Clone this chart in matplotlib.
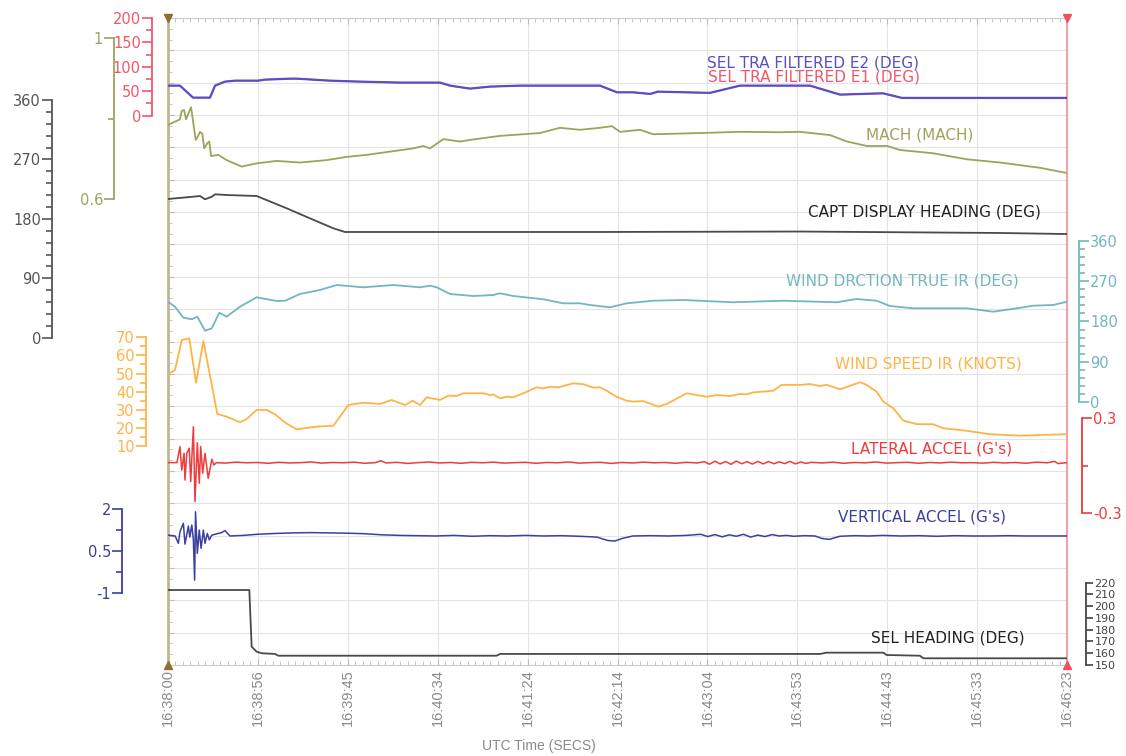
import numpy as np
import matplotlib
matplotlib.use("Agg")
import matplotlib.pyplot as plt
from matplotlib.ticker import MultipleLocator

# time axis (seconds after 16:38:00)
T_END = 503.0
time_labels = ['16:38:00', '16:38:56', '16:39:45', '16:40:34', '16:41:24', '16:42:14',
               '16:43:04', '16:43:53', '16:44:43', '16:45:33', '16:46:23']

# SEL TRA FILTERED E1 / E2 (DEG)
tra_t = [0, 6.7, 14.0, 23.5, 26.3, 31.9, 37.5, 50.4, 54.3, 68.3, 72.0, 90.6, 107.4, 129.8,
         152.2, 157.8, 169.0, 180.2, 196.9, 219.3, 241.7, 251.2, 260.2, 269.7, 274.2, 303.2,
         320.0, 359.2, 376.0, 400.0, 410.7, 503]
tra_e2 = [61.4, 61.4, 36.8, 36.8, 61.4, 69.6, 71.6, 71.6, 73.7, 75.7, 75.7, 71.6, 69.6, 67.6,
          67.6, 61.4, 55.3, 59.4, 61.4, 61.4, 61.4, 47.7, 47.7, 44.4, 49.1, 46.5,
          61.4, 61.4, 43.0, 45.7, 36.2, 36.2]
tra_e1 = [61.4, 61.4, 36.8, 36.8, 61.4, 69.6, 71.6, 71.6, 73.7, 75.7, 75.7, 71.6, 69.6, 67.6,
          67.6, 61.4, 55.3, 59.4, 61.4, 61.4, 61.4, 47.7, 47.7, 44.4, 49.1, 46.5,
          61.4, 61.4, 43.0, 45.7, 36.2, 36.2]

# MACH
mach_t = [0, 6.7, 7.7, 9.0, 10.1, 12.9, 14.2, 15.5, 16.6, 17.9, 19.2, 20.3, 22.0, 23.1, 24.1,
          28.1, 32.8, 41.2, 49.6, 60.8, 73.9, 88.8, 100.0, 111.2, 124.2, 137.2, 142.8, 146.6,
          154.0, 163.4, 169.0, 185.8, 208.1, 219.3, 230.5, 241.7, 248.4, 252.9, 264.1, 271.4,
          297.7, 320.0, 342.4, 353.6, 370.4, 379.9, 391.1, 402.3, 409.6, 428.0, 447.0, 465.5,
          487.9, 503]
mach_v = [0.784, 0.798, 0.819, 0.821, 0.798, 0.828, 0.788, 0.747, 0.755, 0.767, 0.762, 0.726,
          0.739, 0.743, 0.707, 0.710, 0.697, 0.681, 0.689, 0.695, 0.691, 0.697, 0.705, 0.710,
          0.718, 0.726, 0.732, 0.726, 0.749, 0.743, 0.747, 0.757, 0.764, 0.777, 0.772, 0.777,
          0.781, 0.767, 0.772, 0.761, 0.764, 0.767, 0.766, 0.767, 0.759, 0.743, 0.732, 0.732,
          0.722, 0.714, 0.699, 0.691, 0.678, 0.665]

# CAPT DISPLAY HEADING (DEG)
capt_t = [0, 14.0, 17.9, 20.7, 24.5, 26.3, 32.8, 49.6, 66.4, 79.4, 92.5, 99.0, 129.8, 241.7,
          353.6, 465.5, 503]
capt_v = [210.1, 213.5, 214.6, 209.6, 213.5, 217.2, 216.1, 214.6, 196.0, 180.8, 165.7, 160.1,
          160.1, 160.1, 160.8, 158.6, 157.0]

# WIND DRCTION TRUE IR (DEG)
wdir_t = [0, 3.9, 8.6, 13.3, 16.4, 20.7, 24.5, 28.7, 32.8, 40.3, 49.6, 60.8, 65.5, 73.9, 85.0,
          94.4, 109.3, 126.1, 141.0, 146.6, 150.3, 157.8, 170.8, 182.0, 185.8, 193.2, 210.0,
          221.2, 230.5, 236.1, 247.3, 256.6, 271.5, 288.3, 316.3, 344.2, 374.1, 385.3, 396.5,
          404.0, 417.0, 446.9, 461.8, 474.9, 484.1, 495.3, 503]
wdir_v = [224.1, 213.0, 188.5, 184.9, 190.7, 159.5, 164.8, 199.6, 190.7, 213.0, 233.9, 225.7,
          226.3, 241.3, 250.2, 261.3, 256.2, 261.3, 256.2, 259.8, 256.2, 241.3, 236.8, 239.0,
          242.8, 236.8, 229.5, 220.5, 220.5, 216.8, 211.6, 220.5, 226.3, 227.9, 222.8, 226.3,
          222.8, 230.1, 226.3, 214.5, 209.4, 209.4, 201.8, 209.4, 215.2, 216.8, 224.1]

# WIND SPEED IR (KNOTS)
wspd_t = [0, 3.9, 7.7, 11.9, 15.7, 19.8, 27.6, 32.8, 40.3, 44.0, 49.6, 55.2, 59.9, 65.5, 72.0,
          83.2, 92.5, 100.9, 109.3, 118.6, 125.2, 132.6, 136.9, 141.0, 144.7, 152.2, 156.8,
          161.5, 165.2, 176.4, 180.2, 182.0, 185.8, 189.5, 193.2, 198.8, 206.3, 210.0, 213.7,
          218.4, 226.8, 232.4, 238.0, 241.7, 245.4, 251.0, 256.6, 260.3, 265.9, 274.3, 279.0,
          290.2, 301.4, 307.0, 314.4, 320.0, 323.8, 327.5, 338.7, 343.3, 353.6, 359.2, 364.8,
          368.5, 376.0, 387.2, 390.9, 396.5, 400.2, 405.8, 411.4, 418.9, 428.2, 433.8, 446.9,
          459.9, 476.7, 487.9, 503]
wspd_v = [49.7, 51.9, 68.5, 69.4, 44.9, 68.0, 27.7, 26.2, 23.1, 24.9, 29.9, 29.9, 27.5, 22.9,
          19.2, 20.7, 21.2, 32.6, 33.9, 33.2, 35.4, 32.6, 35.0, 32.6, 36.9, 35.4, 37.8, 37.6,
          39.1, 39.1, 38.1, 38.5, 36.3, 37.2, 36.9, 39.1, 42.4, 41.8, 42.7, 42.4, 44.6, 44.1,
          42.2, 42.4, 40.5, 37.2, 35.0, 34.5, 34.8, 31.7, 33.2, 39.1, 37.2, 38.1, 37.6, 38.7,
          38.5, 39.6, 40.5, 43.7, 43.7, 44.2, 43.1, 43.8, 41.3, 45.2, 43.7, 40.0, 34.5, 30.8,
          24.0, 22.1, 22.0, 19.8, 18.4, 16.5, 15.7, 16.1, 16.5]

# LATERAL ACCEL (G's)
lat_t = [0, 5.0, 6.7, 7.7, 9.0, 9.5, 10.5, 11.9, 12.7, 14.2, 15.1, 16.4, 17.5, 18.3, 19.4,
         20.7, 22.5, 24.5, 25.7, 27, 32, 38, 44, 50, 56, 62, 68, 74, 80, 86, 92, 98, 104, 110,
         116, 119, 122, 128, 134, 140, 146, 152, 158, 164, 170, 176, 182, 188, 194, 200, 206,
         212, 218, 224, 230, 236, 242, 248, 254, 260, 266, 272, 278, 284, 290, 296, 300, 303,
         306, 309, 312, 315, 318, 321, 324, 327, 330, 333, 336, 339, 342, 345, 348, 351, 354,
         357, 360, 366, 372, 378, 384, 390, 396, 402, 408, 414, 420, 426, 432, 438, 444, 450,
         456, 462, 468, 474, 480, 486, 492, 496, 498, 503]
lat_v = [0.020, 0.020, 0.121, -0.027, 0.079, -0.090, 0.079, 0.111, -0.100, 0.247, -0.227,
         0.146, -0.110, 0.121, -0.047, 0.079, -0.079, 0.041, 0.005, 0.020, 0.017, 0.023, 0.019,
         0.021, 0.016, 0.022, 0.018, 0.020, 0.024, 0.017, 0.021, 0.019, 0.023, 0.016, 0.020,
         0.032, 0.018, 0.022, 0.015, 0.020, 0.024, 0.018, 0.021, 0.016, 0.022, 0.019, 0.023,
         0.017, 0.020, 0.022, 0.016, 0.021, 0.019, 0.024, 0.017, 0.020, 0.022, 0.015, 0.021,
         0.018, 0.023, 0.019, 0.021, 0.016, 0.022, 0.018, 0.026, 0.010, 0.029, 0.012, 0.027,
         0.009, 0.030, 0.013, 0.026, 0.011, 0.028, 0.012, 0.027, 0.013, 0.025, 0.014, 0.028,
         0.012, 0.024, 0.015, 0.022, 0.018, 0.023, 0.016, 0.021, 0.019, 0.024, 0.017, 0.020,
         0.022, 0.016, 0.021, 0.018, 0.023, 0.019, 0.020, 0.017, 0.022, 0.018, 0.021, 0.016,
         0.023, 0.019, 0.028, 0.014, 0.020]

# VERTICAL ACCEL (G's)
vert_t = [0, 4.0, 5.8, 6.7, 8.6, 9.5, 11.4, 12.2, 13.3, 14.2, 14.9, 15.4, 16.4, 17.5, 18.5,
          19.8, 20.7, 22.0, 23.1, 24.5, 30.0, 31.9, 34.7, 42, 50, 60, 70, 80, 90, 100, 110,
          120, 130, 140, 150, 160, 170, 180, 190, 200, 210, 220, 230, 240, 246, 250, 254, 260,
          270, 280, 290, 298, 302, 306, 310, 314, 318, 322, 326, 330, 334, 338, 342, 346, 350,
          356, 362, 366, 370, 376, 384, 392, 400, 410, 420, 430, 440, 450, 460, 470, 480, 490,
          503]
vert_v = [1.07, 1.04, 0.78, 1.19, 1.49, 0.75, 1.39, 1.00, 1.43, 0.90, -0.53, 1.90, 0.42, 1.25,
          0.60, 1.25, 0.78, 1.13, 0.90, 1.07, 1.16, 1.23, 1.04, 1.06, 1.10, 1.13, 1.15, 1.16,
          1.15, 1.14, 1.12, 1.08, 1.06, 1.05, 1.04, 1.06, 1.03, 1.05, 1.04, 1.06, 1.04, 1.05,
          1.03, 1.00, 0.88, 0.86, 0.95, 1.04, 1.05, 1.04, 1.06, 1.10, 1.02, 1.09, 1.01, 1.08,
          1.03, 1.10, 1.00, 1.07, 1.02, 1.09, 1.04, 1.06, 1.03, 1.05, 1.04, 0.95, 0.92, 1.03,
          1.05, 1.04, 1.06, 1.04, 1.05, 1.03, 1.05, 1.04, 1.04, 1.05, 1.04, 1.04, 1.04]

# SEL HEADING (DEG)
selh_t = [0, 45.5, 46.8, 49.6, 52.4, 59.9, 61.7, 183.9, 185.8, 364.8, 368.5, 400.2, 402.1,
          420.7, 422.6, 503]
selh_v = [213.8, 213.8, 165.6, 161.3, 160.0, 159.4, 157.9, 157.9, 159.4, 159.4, 160.5, 160.5,
          158.5, 157.9, 155.7, 155.7]

# ---- layout (pixels of the 1126x756 picture)
W, H = 1126, 756
X0, X1, Y0, Y1 = 168, 1067, 18, 665


def frac_y(py):
    return (Y1 - py) / (Y1 - Y0)


def scale_lim(v_lo, v_hi, py_lo, py_hi):
    f_lo, f_hi = frac_y(py_lo), frac_y(py_hi)
    k = (v_hi - v_lo) / (f_hi - f_lo)
    return v_lo - f_lo * k, v_lo + (1 - f_lo) * k


fig = plt.figure(figsize=(W / 100, H / 100), dpi=100)
ax = fig.add_axes([X0 / W, 1 - Y1 / H, (X1 - X0) / W, (Y1 - Y0) / H])
ax.set_xlim(0, T_END)
ax.set_ylim(0, 20)
ax.set_yticks(range(21))
ax.yaxis.set_minor_locator(MultipleLocator(1 / 3))
ax.set_yticklabels([])
ax.set_xticks(np.linspace(0, T_END, len(time_labels)))
ax.set_xticklabels(time_labels, rotation=90, color='#8a8a8a', fontsize=10.5,
                   family='Liberation Sans')
ax.xaxis.set_minor_locator(MultipleLocator(T_END / 120))
ax.tick_params(which='both', direction='in', top=True, right=True, colors='#bbbbbb')
ax.tick_params(which='major', length=4, width=0.8)
ax.tick_params(which='minor', length=3, width=0.6)
ax.tick_params(axis='x', labelcolor='#8a8a8a', pad=3)
ax.grid(True, which='major', color='#e4e4e4', lw=0.8)
ax.spines['left'].set_color('#c3b592')
ax.spines['left'].set_linewidth(2)
ax.spines['right'].set_color('#f4a0a8')
ax.spines['right'].set_linewidth(1.5)
ax.spines['top'].set_color('#cccccc')
ax.spines['bottom'].set_color('#cccccc')
for xm, ym, mk, c in [(0, 1, 'v', '#8c6f2a'), (0, 0, '^', '#8c6f2a'),
                      (1, 1, 'v', '#f05060'), (1, 0, '^', '#f05060')]:
    ax.plot([xm], [ym], marker=mk, color=c, ms=6, transform=ax.transAxes, clip_on=False,
            zorder=10)


def add_scale(side, px, v_lo, v_hi, py_lo, py_hi, major, labels, minor, color, size=10.5):
    a = ax.twinx()
    a.set_ylim(*scale_lim(v_lo, v_hi, py_lo, py_hi))
    for s in a.spines.values():
        s.set_visible(False)
    sp = a.spines[side]
    sp.set_visible(True)
    sp.set_position(('axes', (px - X0) / (X1 - X0)))
    sp.set_bounds(v_lo, v_hi)
    sp.set_color(color)
    sp.set_linewidth(1.3)
    a.yaxis.set_ticks_position(side)
    a.set_yticks(major)
    a.set_yticklabels(labels)
    a.set_yticks(minor, minor=True)
    a.tick_params(axis='y', which='both', colors=color, direction='out', width=1.2, pad=1)
    a.tick_params(axis='y', which='major', length=7, labelsize=size)
    a.tick_params(axis='y', which='minor', length=4)
    return a


c_e2, c_e1 = '#5a4ec6', '#f2566a'
c_mach, c_head = '#9ea35c', '#4a4a4a'
c_wdir, c_wspd = '#72b6bf', '#ffb347'
c_lat, c_vert = '#ee3b3b', '#3b40a0'

a_tra = add_scale('left', 152, 0, 200, 115, 17.3, [0, 50, 100, 150, 200],
                  ['0', '50', '100', '150', '200'], [25, 75, 125, 175], c_e1)
a_mach = add_scale('left', 114, 0.6, 1.0, 199.3, 37.7, [0.6, 1.0], ['0.6', '1'], [0.8], c_mach)
a_capt = add_scale('left', 52, 0, 360, 337.7, 100, [0, 90, 180, 270, 360],
                   ['0', '90', '180', '270', '360'], list(range(18, 360, 18)), '#555555')
a_wspd = add_scale('left', 146, 10, 70, 446, 337.3, list(range(10, 71, 10)),
                   [str(v) for v in range(10, 71, 10)], list(range(15, 70, 10)), c_wspd)
a_vert = add_scale('left', 122, -1, 2, 593.3, 509, [-1, 0.5, 2], ['-1', '0.5', '2'],
                   [-0.25, 1.25], c_vert)
a_wdir = add_scale('right', 1079, 0, 360, 402.3, 240.7, [0, 90, 180, 270, 360],
                   ['0', '90', '180', '270', '360'], list(range(18, 360, 18)), c_wdir)
a_lat = add_scale('right', 1082, -0.3, 0.3, 513.3, 418.3, [-0.3, 0.3], ['-0.3', '0.3'], [0.0],
                  c_lat)
a_selh = add_scale('right', 1086, 150, 220, 665, 582.7, list(range(150, 221, 10)),
                   [str(v) for v in range(150, 221, 10)], [], '#444444', size=8)
a_selh.tick_params(axis='y', which='major', length=5, pad=1)

lw = 1.3
a_tra.plot(tra_t, tra_e1, color=c_e1, lw=1.0)
a_tra.plot(tra_t, tra_e2, color=c_e2, lw=1.6)
a_mach.plot(mach_t, mach_v, color=c_mach, lw=lw)
a_capt.plot(capt_t, capt_v, color=c_head, lw=lw)
a_wdir.plot(wdir_t, wdir_v, color=c_wdir, lw=lw)
a_wspd.plot(wspd_t, wspd_v, color=c_wspd, lw=lw)
a_lat.plot(lat_t, lat_v, color=c_lat, lw=1.1)
a_vert.plot(vert_t, vert_v, color=c_vert, lw=1.1)
a_selh.plot(selh_t, selh_v, color=c_head, lw=lw)

# trace names
names = [('SEL TRA FILTERED E2 (DEG)', 813, 63, c_e2),
         ('SEL TRA FILTERED E1 (DEG)', 814, 77, c_e1),
         ('MACH (MACH)', 920, 135, c_mach),
         ('CAPT DISPLAY HEADING (DEG)', 924, 212, '#222222'),
         ('WIND DRCTION TRUE IR (DEG)', 902, 281, c_wdir),
         ('WIND SPEED IR (KNOTS)', 928, 364, c_wspd),
         ('LATERAL ACCEL (G\'s)', 932, 449, c_lat),
         ('VERTICAL ACCEL (G\'s)', 922, 517, c_vert),
         ('SEL HEADING (DEG)', 948, 638, '#222222')]
for txt, px, py, c in names:
    fig.text(px / W, 1 - py / H, txt, color=c, fontsize=11, ha='center', va='center')

fig.text(539 / W, 1 - 746 / H, 'UTC Time (SECS)', color='#8a8a8a', fontsize=10,
         ha='center', va='center', family='Liberation Sans')

plt.savefig('out.png', dpi=100)
